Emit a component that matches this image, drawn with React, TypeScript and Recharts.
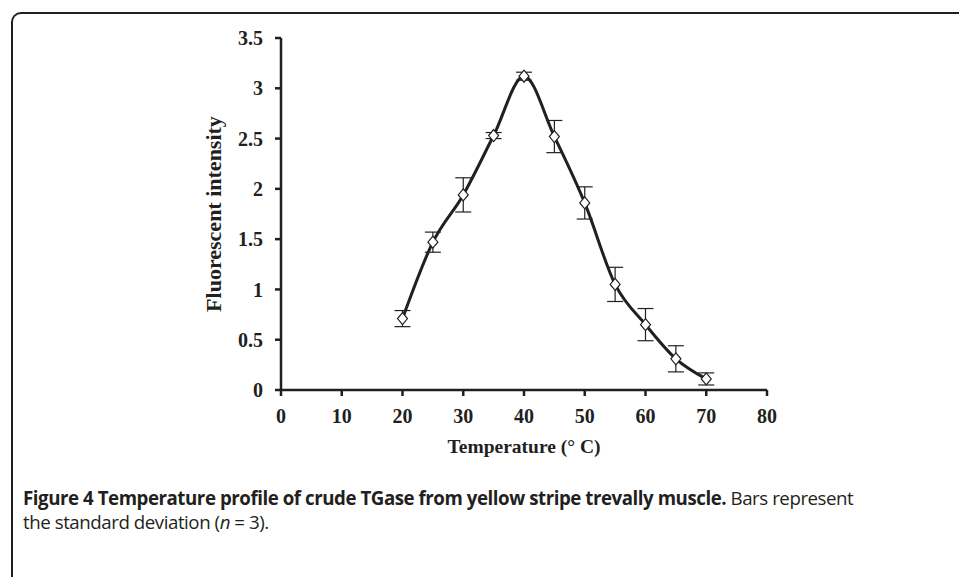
import React from "react";
import { LineChart, Line, XAxis, YAxis, ErrorBar } from "recharts";

const temps = [20, 25, 30, 35, 40, 45, 50, 55, 60, 65, 70];
const intensity = [0.71, 1.47, 1.94, 2.53, 3.12, 2.52, 1.86, 1.05, 0.65, 0.31, 0.11];
const sd = [0.08, 0.1, 0.17, 0.03, 0.04, 0.16, 0.16, 0.17, 0.16, 0.13, 0.06];
const xTicks = [0, 10, 20, 30, 40, 50, 60, 70, 80];
const yTicks = [0, 0.5, 1, 1.5, 2, 2.5, 3, 3.5];

const data = temps.map((t, i) => ({ temp: t, value: intensity[i], sd: sd[i] }));

const ink = "#231f20";
const serif = "'Liberation Serif', 'Times New Roman', serif";

// hollow diamond marker
function Diamond(props: any) {
  const { cx, cy } = props;
  if (cx == null || cy == null) return null;
  return (
    <polygon
      points={`${cx},${cy - 6} ${cx + 5},${cy} ${cx},${cy + 6} ${cx - 5},${cy}`}
      fill="#fff"
      stroke={ink}
      strokeWidth={1.2}
    />
  );
}

export default function App() {
  return (
    <div style={{ position: "absolute", left: 0, top: 0, width: 959, height: 577, overflow: "hidden", background: "#fff" }}>
      <div
        style={{
          position: "absolute", left: 11, top: 12, width: 1000, height: 700,
          borderTop: `2px solid ${ink}`, borderLeft: `2px solid ${ink}`, borderTopLeftRadius: 10,
        }}
      />
      <div style={{ position: "absolute", left: 0, top: 0 }}>
        <LineChart width={959} height={577} data={data} margin={{ top: 38, right: 192, bottom: 157, left: 201 }}>
          <XAxis
            dataKey="temp"
            type="number"
            domain={[0, 80]}
            ticks={xTicks}
            height={30}
            stroke={ink}
            strokeWidth={2.5}
            tickSize={6}
            tickMargin={13}
            tick={{ fill: ink, fontSize: 20, fontWeight: 700, fontFamily: serif }}
            label={{ value: "Temperature (° C)", position: "bottom", offset: 19, fill: ink, fontSize: 19.5, fontWeight: 700, fontFamily: serif }}
          />
          <YAxis
            type="number"
            domain={[0, 3.5]}
            ticks={yTicks}
            width={80}
            stroke={ink}
            strokeWidth={2.5}
            tickSize={6}
            tickMargin={12}
            tick={{ fill: ink, fontSize: 20, fontWeight: 700, fontFamily: serif }}
            label={{
              value: "Fluorescent intensity", angle: -90, position: "insideLeft", offset: 12,
              style: { textAnchor: "middle" }, fill: ink, fontSize: 22, fontWeight: 700, fontFamily: serif,
            }}
          />
          <Line
            type="monotone"
            dataKey="value"
            stroke={ink}
            strokeWidth={3}
            dot={<Diamond />}
            activeDot={false}
            isAnimationActive={false}
          >
            <ErrorBar dataKey="sd" width={8} stroke={ink} strokeWidth={1.2} direction="y" />
          </Line>
        </LineChart>
      </div>
      <div
        style={{
          position: "absolute", left: 23, top: 486, color: ink, fontFamily: "'Open Sans', sans-serif",
          fontSize: 18.7, lineHeight: "24px", whiteSpace: "nowrap", letterSpacing: -0.45,
        }}
      >
        <div>
          <b>Figure 4 Temperature profile of crude TGase from yellow stripe trevally muscle.</b> Bars represent
        </div>
        <div>
          the standard deviation (<i>n</i> = 3).
        </div>
      </div>
    </div>
  );
}
